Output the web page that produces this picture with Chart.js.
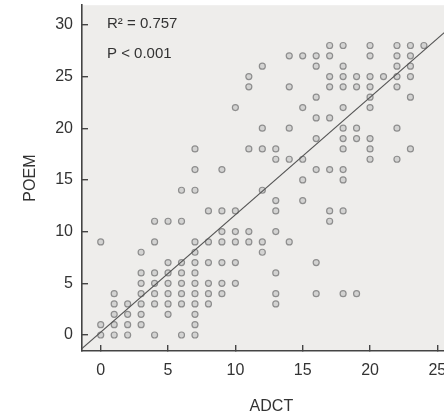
<!DOCTYPE html>
<html>
<head>
<meta charset="utf-8">
<script src="https://cdn.jsdelivr.net/npm/chart.js@4.4.1/dist/chart.umd.min.js"></script>
<style>
  html, body { margin: 0; padding: 0; background: #fff; overflow: hidden; }
  #wrap { width: 466px; height: 417px; }
</style>
</head>
<body>
<div id="wrap"><canvas id="scatter" width="466" height="417"></canvas></div>
<script>
// ── Data (one line per ADCT value) ─────────────────────────────
const adct = [
    0, 0, 0,
    1, 1, 1, 1, 1,
    2, 2, 2, 2,
    3, 3, 3, 3, 3, 3, 3,
    4, 4, 4, 4, 4, 4, 4,
    5, 5, 5, 5, 5, 5, 5,
    6, 6, 6, 6, 6, 6, 6, 6,
    7, 7, 7, 7, 7, 7, 7, 7, 7, 7, 7, 7, 7,
    8, 8, 8, 8, 8, 8,
    9, 9, 9, 9, 9, 9, 9,
    10, 10, 10, 10, 10, 10,
    11, 11, 11, 11, 11,
    12, 12, 12, 12, 12, 12,
    13, 13, 13, 13, 13, 13, 13, 13,
    14, 14, 14, 14, 14,
    15, 15, 15, 15, 15,
    16, 16, 16, 16, 16, 16, 16, 16,
    17, 17, 17, 17, 17, 17, 17, 17,
    18, 18, 18, 18, 18, 18, 18, 18, 18, 18, 18, 18,
    19, 19, 19, 19, 19,
    20, 20, 20, 20, 20, 20, 20, 20, 20,
    21,
    22, 22, 22, 22, 22, 22, 22,
    23, 23, 23, 23, 23, 23,
    24,
];
const poem = [
    9, 1, 0,
    4, 3, 2, 1, 0,
    3, 2, 1, 0,
    8, 6, 5, 4, 3, 2, 1,
    11, 9, 6, 5, 4, 3, 0,
    11, 7, 6, 5, 4, 3, 2,
    14, 11, 7, 6, 5, 4, 3, 0,
    18, 16, 14, 9, 8, 7, 6, 5, 4, 3, 2, 1, 0,
    12, 9, 7, 5, 4, 3,
    16, 12, 10, 9, 7, 5, 4,
    22, 12, 10, 9, 7, 5,
    25, 24, 18, 10, 9,
    26, 20, 18, 14, 9, 8,
    18, 17, 13, 12, 10, 6, 4, 3,
    27, 24, 20, 17, 9,
    27, 22, 17, 15, 13,
    27, 26, 23, 21, 19, 16, 7, 4,
    28, 27, 25, 24, 21, 16, 12, 11,
    28, 26, 25, 24, 22, 20, 19, 18, 16, 15, 12, 4,
    25, 24, 20, 19, 4,
    28, 27, 25, 24, 23, 22, 19, 18, 17,
    25,
    28, 27, 26, 25, 24, 20, 17,
    28, 27, 26, 25, 23, 18,
    28,
];

// regression line end points
const fitAdct = [-2, 26];
const fitPoem = [-2.0, 29.8];

const xTicks = [0, 5, 10, 15, 20, 25];
const yTicks = [0, 5, 10, 15, 20, 25, 30];
const statLines = ['R\u00b2 = 0.757', 'P < 0.001'];

// ── Style ──────────────────────────────────────────────────────
const AXIS_COLOR = '#444';
const TEXT_COLOR = '#333';
const PLOT_BG = '#eeedeb';
const FONT = 'Arial, "Liberation Sans", sans-serif';

// grey panel behind the data
const plotBackground = {
    id: 'plotBackground',
    beforeDraw(chart) {
        const { ctx, chartArea: a } = chart;
        ctx.save();
        ctx.fillStyle = PLOT_BG;
        ctx.fillRect(a.left, a.top, a.right - a.left, a.bottom - a.top);
        ctx.restore();
    },
};

// R² / P text in the top-left corner
const statText = {
    id: 'statText',
    afterDatasetsDraw(chart) {
        const { ctx, chartArea: a } = chart;
        ctx.save();
        ctx.fillStyle = TEXT_COLOR;
        ctx.font = '15px ' + FONT;
        ctx.textAlign = 'left';
        ctx.textBaseline = 'middle';
        statLines.forEach((t, i) => ctx.fillText(t, a.left + 25, a.top + 19 + i * 30));
        ctx.restore();
    },
};

// keep the chart area where the figure has it
const noPad = s => { s.paddingTop = 0; s.paddingBottom = 0; s.paddingLeft = 0; s.paddingRight = 0; };

const points = adct.map((x, i) => ({ x, y: poem[i] }));
const fitLine = fitAdct.map((x, i) => ({ x, y: fitPoem[i] }));

new Chart(document.getElementById('scatter').getContext('2d'), {
    type: 'scatter',
    data: {
        datasets: [
            {
                type: 'line',
                data: fitLine,
                borderColor: '#555',
                borderWidth: 1.2,
                pointRadius: 0,
                fill: false,
            },
            {
                data: points,
                pointRadius: 3,
                pointBorderWidth: 1.2,
                pointBorderColor: '#8e8e8e',
                pointBackgroundColor: 'rgba(190,190,190,0.55)',
            },
        ],
    },
    options: {
        responsive: false,
        animation: false,
        layout: { padding: { top: 5, left: 0, right: 0, bottom: 0 } },
        plugins: { legend: { display: false }, tooltip: { enabled: false } },
        scales: {
            x: {
                type: 'linear',
                min: -1.39,
                max: 26.74,
                afterBuildTicks: s => { s.ticks = xTicks.map(v => ({ value: v })); },
                afterFit: s => { s.height = 66; noPad(s); },
                ticks: { color: TEXT_COLOR, font: { family: FONT, size: 16 }, padding: 16, maxRotation: 0 },
                grid: { drawOnChartArea: false, drawTicks: true, tickLength: -6, color: AXIS_COLOR, lineWidth: 1.4 },
                border: { display: true, color: AXIS_COLOR, width: 1.6 },
                title: { display: true, text: 'ADCT', color: TEXT_COLOR, font: { family: FONT, size: 16 }, padding: { top: 0, bottom: 1 } },
            },
            y: {
                type: 'linear',
                min: -1.55,
                max: 31.9,
                afterBuildTicks: s => { s.ticks = yTicks.map(v => ({ value: v })); },
                afterFit: s => { s.width = 82; noPad(s); },
                ticks: { color: TEXT_COLOR, font: { family: FONT, size: 16 }, padding: 15 },
                grid: { drawOnChartArea: false, drawTicks: true, tickLength: -6, color: AXIS_COLOR, lineWidth: 1.4 },
                border: { display: true, color: AXIS_COLOR, width: 1.6 },
                title: { display: true, text: 'POEM', color: TEXT_COLOR, font: { family: FONT, size: 16 }, padding: { top: 21, bottom: 0 } },
            },
        },
    },
    plugins: [plotBackground, statText],
});
</script>
</body>
</html>
